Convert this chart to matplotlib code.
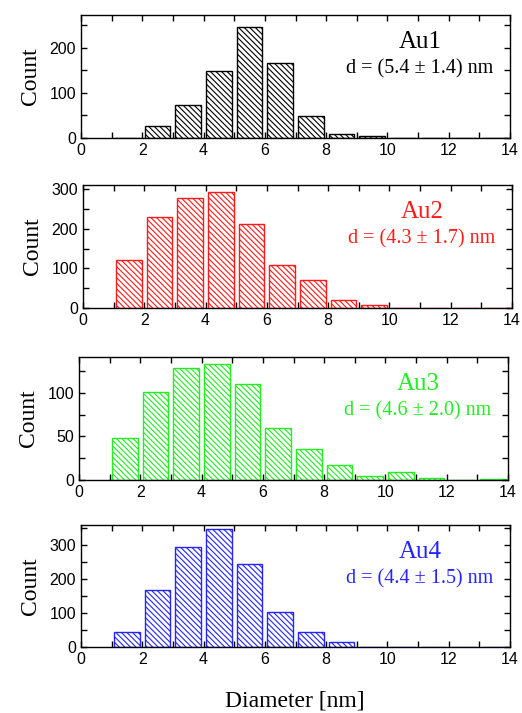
import numpy as np
import matplotlib
matplotlib.use('agg')
import matplotlib.pyplot as plt
from matplotlib.ticker import MultipleLocator

# bin left edges (nm), one bar per 1 nm bin
bins = [1, 2, 3, 4, 5, 6, 7, 8, 9, 10, 11, 12, 13]
au1 = [1, 26, 74, 148, 245, 165, 48, 9, 5, 0, 1, 1, 0]
au2 = [121, 231, 279, 293, 213, 109, 72, 20, 7, 1, 1, 1, 0]
au3 = [48, 101, 128, 133, 110, 60, 36, 17, 5, 9, 2, 0, 1]
au4 = [45, 167, 296, 347, 244, 104, 43, 15, 1, 1, 1, 0, 0]

names = ['Au1', 'Au2', 'Au3', 'Au4']
labels = ['d = (5.4 \u00b1 1.4) nm', 'd = (4.3 \u00b1 1.7) nm',
          'd = (4.6 \u00b1 2.0) nm', 'd = (4.4 \u00b1 1.5) nm']
colors = ['black', '#ff1a1a', '#22ee22', '#2424ff']
series = [au1, au2, au3, au4]
ylims = [272, 311, 141, 360]
ymajor = [100, 100, 50, 100]

plt.rcParams['hatch.linewidth'] = 0.8

W, H = 522, 713
fig = plt.figure(figsize=(W / 100, H / 100), dpi=100)

# axes boxes in pixels: left, top, right, bottom
boxes = [(81, 15, 510, 138), (83, 185, 512, 308),
         (79, 357, 508, 480), (81, 525, 510, 647)]

for i in range(4):
    l, t, r, b = boxes[i]
    ax = fig.add_axes([l / W, 1 - b / H, (r - l) / W, (b - t) / H])
    x = np.array(bins) + 0.5
    ax.bar(x, series[i], width=0.84, color='white', edgecolor=colors[i],
           hatch='\\' * 6, linewidth=1.0)
    ax.set_xlim(0, 14)
    ax.set_ylim(0, ylims[i])
    ax.xaxis.set_major_locator(MultipleLocator(2))
    ax.xaxis.set_minor_locator(MultipleLocator(1))
    ax.yaxis.set_major_locator(MultipleLocator(ymajor[i]))
    ax.yaxis.set_minor_locator(MultipleLocator(ymajor[i] / 2))
    ax.tick_params(which='both', direction='in', top=True, right=True,
                   length=4, width=1)
    ax.tick_params(labelsize=11.5)
    for lab in ax.get_xticklabels() + ax.get_yticklabels():
        lab.set_fontfamily('Liberation Sans')
    for s in ax.spines.values():
        s.set_linewidth(1)
    ax.set_ylabel('Count', fontsize=17, family='Liberation Serif', labelpad=6)
    ax.text(0.79, 0.78, names[i], transform=ax.transAxes, ha='center',
            va='center', fontsize=18, family='Liberation Serif', color=colors[i])
    ax.text(0.79, 0.56, labels[i], transform=ax.transAxes, ha='center',
            va='center', fontsize=14.5, family='Liberation Serif', color=colors[i])

fig.text(295 / W, 1 - 701 / H, 'Diameter [nm]', ha='center', va='center',
         fontsize=17, family='Liberation Serif')

fig.savefig('out.png', dpi=100)
